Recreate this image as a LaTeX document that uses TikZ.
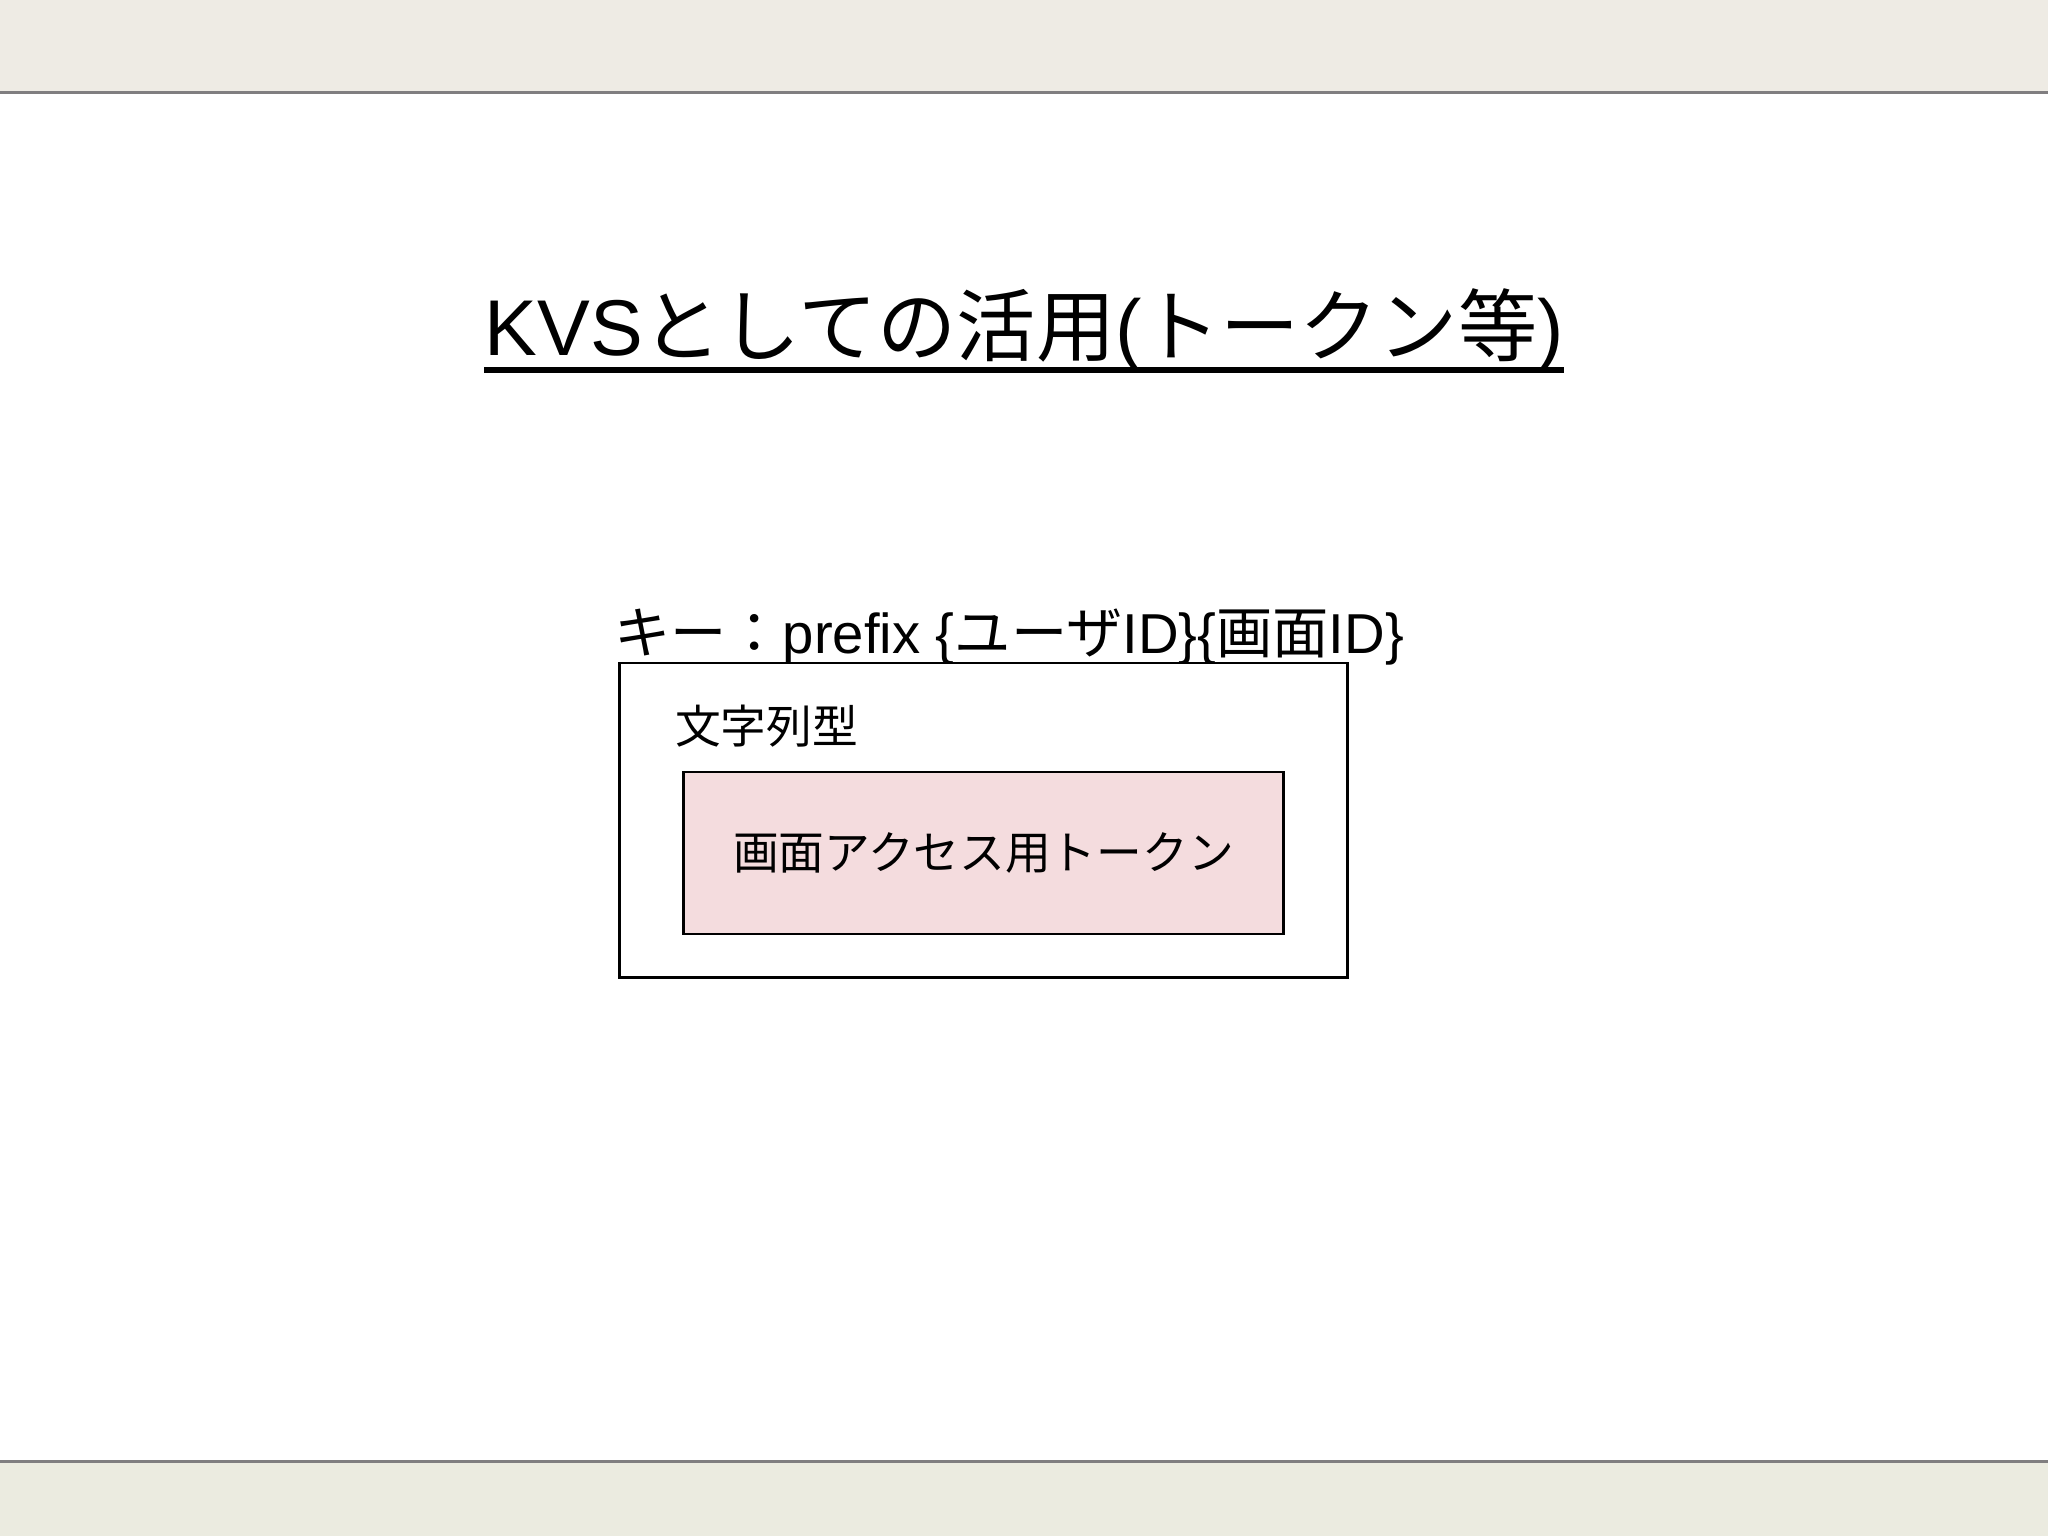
\documentclass[tikz,border=0pt]{standalone}
\usepackage{fontspec}
\setmainfont{Liberation Sans}
\newfontfamily\cjk{Noto Sans CJK JP}
\newcommand{\jp}[1]{{\cjk #1}}
\definecolor{topband}{RGB}{238,235,228}
\definecolor{botband}{RGB}{235,235,224}
\definecolor{bandline}{RGB}{128,126,128}
\definecolor{pinkfill}{RGB}{244,220,222}
\tikzset{
  boxline/.style={draw=black, line width=0.8pt},
  plain/.style={inner sep=0pt, outer sep=0pt, text=black},
}
\begin{document}
\begin{tikzpicture}[x=0.01cm,y=-0.01cm]
\useasboundingbox (0,0) rectangle (2048,1536);
\fill[white] (0,0) rectangle (2048,1536);
% bands
\fill[topband] (0,0) rectangle (2048,91);
\fill[bandline] (0,90.5) rectangle (2048,93.5);
\fill[botband] (0,1462) rectangle (2048,1536);
\fill[bandline] (0,1459.5) rectangle (2048,1462.5);
% title
\node[plain, anchor=base] (title) at (1024,355)
  {\fontsize{22.5pt}{27pt}\selectfont KVS\jp{としての活用}(\jp{トークン等})};
\draw[line width=1.5pt] ([yshift=-0.15cm]title.base west) -- ([yshift=-0.15cm]title.base east);
% key label
\node[plain, anchor=base west] (key) at (614,653)
  {\fontsize{16pt}{19pt}\selectfont \jp{キー：}prefix \{\jp{ユーザ}ID\}\{\jp{画面}ID\}};
% boxes
\node[boxline, fill=white, minimum width=7.27cm, minimum height=3.14cm, inner sep=0pt] (outer) at (983.5,820) {};
\node[plain, anchor=west] (type) at (675,726)
  {\fontsize{13pt}{16pt}\selectfont\jp{文字列型}};
\node[boxline, fill=pinkfill, minimum width=5.99cm, minimum height=1.62cm, inner sep=0pt] (inner) at (983.5,853)
  {\fontsize{13pt}{16pt}\selectfont\jp{画面アクセス用トークン}};
\end{tikzpicture}
\end{document}
